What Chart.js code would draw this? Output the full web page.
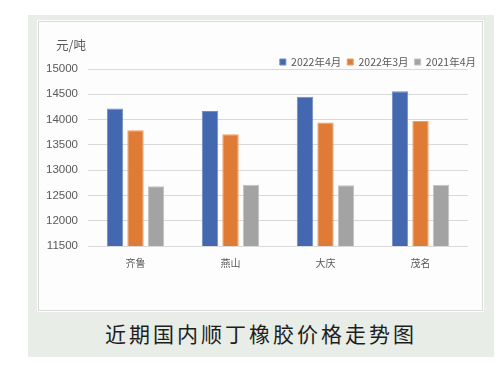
<!DOCTYPE html>
<html><head><meta charset="utf-8">
<script src="https://cdn.jsdelivr.net/npm/chart.js@4"></script>
<style>
html,body{margin:0;padding:0;background:#fff;width:502px;height:371px;overflow:hidden;}
#outer{position:absolute;left:28px;top:15px;width:466px;height:342px;background:#E8EDE7;}
#inner{position:absolute;left:38px;top:21px;width:445px;height:290px;background:#FDFDFD;border:1px solid #DADADA;outline:1px solid #FFFFFF;box-sizing:border-box;}
#c{position:absolute;left:40px;top:22px;}
#unit{position:absolute;left:56px;top:36px;font:12.5px "Noto Sans CJK SC";color:#595959;line-height:18px;}
#cap{position:absolute;left:28px;width:466px;top:318px;text-align:center;font:400 21px "Noto Sans CJK SC";letter-spacing:3px;color:#1E1E1E;line-height:30px;}
</style></head>
<body>
<div id="outer"></div>
<div id="inner"></div>
<canvas id="c" width="442" height="287"></canvas>
<div id="unit">元/吨</div>
<div id="cap">近期国内顺丁橡胶价格走势图</div>
<script>
const categories = ['齐鲁', '燕山', '大庆', '茂名'];
const seriesNames = ['2022年4月', '2022年3月', '2021年4月'];
const apr2022 = [14220, 14170, 14450, 14560];
const mar2022 = [13790, 13710, 13940, 13970];
const apr2021 = [12680, 12710, 12700, 12710];
const yMin = 11500, yMax = 15000, yStep = 500;

const fills = ['#4468B0', '#E07B36', '#A3A3A3'];
const edges = ['#6E8CC6', '#EE9E6A', '#C2C2C2'];
const seriesValues = [apr2022, mar2022, apr2021];

const shiftLegend = {
  id: 'shiftLegend',
  afterLayout(chart) {
    const l = chart.legend;
    if (!l) return;
    l.left += 14; l.right += 14;
    l.top += 8.25; l.bottom += 8.25;
  }
};

new Chart(document.getElementById('c'), {
  type: 'bar',
  data: {
    labels: categories,
    datasets: seriesNames.map((n, i) => ({
      label: n,
      data: seriesValues[i],
      backgroundColor: fills[i],
      borderColor: edges[i],
      borderWidth: 1,
      categoryPercentage: 0.647,
      barPercentage: 0.8
    }))
  },
  options: {
    responsive: false,
    animation: false,
    layout: { padding: { left: 0, right: 14, top: 20.5, bottom: 29 } },
    plugins: {
      tooltip: { enabled: false },
      legend: {
        position: 'top',
        align: 'end',
        labels: {
          boxWidth: 6, boxHeight: 6, padding: 6,
          color: '#595959',
          font: { family: '"Noto Sans CJK SC"', size: 10.5 }
        }
      }
    },
    scales: {
      x: {
        grid: { display: false, drawTicks: false },
        border: { display: false },
        ticks: { color: '#595959', padding: 11, font: { family: '"Noto Sans CJK SC"', size: 10 } }
      },
      y: {
        min: yMin, max: yMax,
        afterFit(scale) { scale.width = 48; },
        grid: { color: '#D9D9D9', lineWidth: 1, drawTicks: false },
        border: { display: false },
        ticks: {
          stepSize: yStep, padding: 10, color: '#595959',
          callback: (v) => String(v),
          font: { family: '"Liberation Sans Narrow", "Liberation Sans", sans-serif', size: 11.5 }
        }
      }
    }
  },
  plugins: [shiftLegend]
});
</script>
</body></html>
